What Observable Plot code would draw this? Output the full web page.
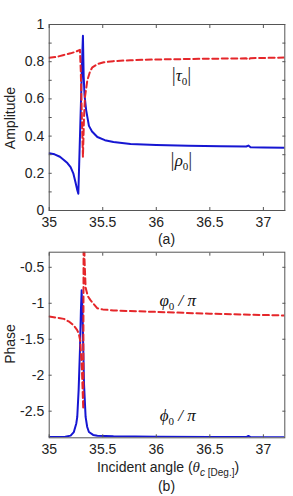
<!DOCTYPE html>
<html>
<head>
<meta charset="utf-8">
<script src="https://cdn.jsdelivr.net/npm/d3@7"></script>
<script src="https://cdn.jsdelivr.net/npm/@observablehq/plot@0.6"></script>
<style>
  body { margin: 0; background: #fff; }
  #fig { position: relative; width: 293px; height: 496px; font-family: "Liberation Sans", Arial, sans-serif; color: #222; }
  .panel { position: absolute; left: 0; }
  .lab { position: absolute; font-size: 14px; white-space: nowrap; transform: translate(-50%, -50%); line-height: 1; }
  .ylab { transform: translate(-50%, -50%) rotate(-90deg); }
  .sub { font-size: 10px; position: relative; top: 4px; }
  .m { font-family: "Liberation Serif", "DejaVu Serif", serif; font-style: italic; font-size: 15px; }
</style>
</head>
<body>
<div id="fig">
  <div class="panel" id="amp" style="top:0"></div>
  <div class="panel" id="phase" style="top:248px"></div>
  <div class="lab ylab" style="left:10px;top:118px">Amplitude</div>
  <div class="lab" style="left:166.5px;top:239px">(a)</div>
  <div class="lab ylab" style="left:10px;top:343.5px">Phase</div>
  <div class="lab" style="left:168px;top:467px">Incident angle (<span class="m">θ</span><span class="sub"><i>c</i> [Deg.]</span>)</div>
  <div class="lab" style="left:166.5px;top:485.5px">(b)</div>
</div>
<script>
// Incident angle (degrees) ticks and amplitude / phase ticks
const angleTicks = [35, 35.5, 36, 36.5, 37];
const ampTicks = [0, 0.2, 0.4, 0.6, 0.8, 1];
const ampMinorTicks = [0, 0.1, 0.2, 0.3, 0.4, 0.5, 0.6, 0.7, 0.8, 0.9, 1];
const phaseTicks = [-2.5, -2, -1.5, -1, -0.5];

// |rho_0| : reflection amplitude
const rhoX = [35.00, 35.05, 35.10, 35.137, 35.17, 35.20, 35.225, 35.246, 35.26, 35.272, 35.28, 35.29, 35.30, 35.308, 35.315, 35.322, 35.33, 35.345, 35.371, 35.40, 35.45, 35.52, 35.60, 35.76, 36.0, 36.3, 36.6, 36.84, 36.86, 36.88, 37.0, 37.2];
const rhoY = [0.308, 0.302, 0.289, 0.272, 0.255, 0.233, 0.200, 0.150, 0.115, 0.090, 0.25, 0.45, 0.65, 0.82, 0.94, 0.72, 0.62, 0.54, 0.455, 0.425, 0.395, 0.378, 0.368, 0.358, 0.352, 0.348, 0.345, 0.344, 0.349, 0.340, 0.339, 0.338];

// |tau_0| : transmission amplitude
const tauX = [35.0, 35.07, 35.137, 35.20, 35.25, 35.287, 35.295, 35.305, 35.315, 35.325, 35.334, 35.356, 35.38, 35.403, 35.45, 35.51, 35.60, 35.76, 36.0, 36.5, 36.84, 36.86, 36.88, 37.2];
const tauY = [0.821, 0.826, 0.836, 0.845, 0.854, 0.864, 0.75, 0.50, 0.287, 0.50, 0.609, 0.70, 0.745, 0.77, 0.787, 0.797, 0.803, 0.808, 0.812, 0.816, 0.818, 0.812, 0.819, 0.822];

// phi_0 / pi : reflection phase
const phiX = [35.0, 35.15, 35.20, 35.23, 35.253, 35.262, 35.275, 35.287, 35.296, 35.303, 35.312, 35.325, 35.34, 35.355, 35.371, 35.41, 35.45, 35.6, 36.0, 36.5, 36.84, 36.86, 36.88, 37.2];
const phiY = [-2.86, -2.855, -2.84, -2.79, -2.67, -2.58, -2.2, -1.66, -1.1, -0.82, -1.19, -2.12, -2.58, -2.72, -2.79, -2.83, -2.84, -2.85, -2.855, -2.86, -2.86, -2.845, -2.86, -2.862];

// varphi_0 / pi : transmission phase
const vphiX = [35.0, 35.07, 35.137, 35.19, 35.23, 35.26, 35.277, 35.29, 35.305, 35.318, 35.322, 35.33, 35.34, 35.36, 35.387, 35.45, 35.5, 35.6, 36.0, 36.5, 37.2];
const vphiY = [-1.185, -1.2, -1.217, -1.26, -1.31, -1.37, -1.425, -1.52, -1.9, -2.47, 0.5, -0.4, -0.78, -0.9, -0.96, -1.07, -1.085, -1.10, -1.12, -1.145, -1.17];

// Curve labels; "_0" marks a subscript zero
const ampLabels = [
  {text: "|τ_0|", x: 36.235, y: 0.726},
  {text: "|ρ_0|", x: 36.235, y: 0.269}
];
const phaseLabels = [
  {text: "φ_0 / π", x: 36.2, y: -0.963},
  {text: "ϕ_0 / π", x: 36.2, y: -2.56}
];

const BLUE = "#1616d2";
const RED = "#e5262a";
const FRAME = "#555";
const pts = (xs, ys) => xs.map((x, i) => ({x, y: ys[i]}));

function boxAxes(xTicks, yTicks, yMinor) {
  return [
    Plot.frame({stroke: FRAME, strokeWidth: 1}),
    Plot.axisX(xTicks, {anchor: "bottom", tickSize: -3, tickPadding: 9.5, tickFormat: String, stroke: FRAME, fill: "#222", label: null}),
    Plot.axisX(xTicks, {anchor: "top", tickSize: -3, tickFormat: () => "", stroke: FRAME, label: null}),
    Plot.axisY(yMinor, {anchor: "left", tickSize: -3, tickFormat: () => "", stroke: FRAME, label: null}),
    Plot.axisY(yTicks, {anchor: "left", tickSize: 0, tickPadding: 5, tickFormat: String, fill: "#222", label: null}),
    Plot.axisY(yMinor, {anchor: "right", tickSize: -3, tickFormat: () => "", stroke: FRAME, label: null})
  ];
}

// Typeset the curve labels: upright bars and subscript, italic symbols
function typeset(svg) {
  d3.select(svg).selectAll(".mathlbl text").each(function () {
    const src = this.textContent;
    const sel = d3.select(this).text("");
    let shift = 0;
    for (let i = 0; i < src.length; i++) {
      const ch = src[i];
      if (ch === "_") {
        sel.append("tspan").attr("font-style", "normal").attr("font-size", 11).attr("dy", 4).text(src[++i]);
        shift = -4;
        continue;
      }
      const t = sel.append("tspan").text(ch);
      if (shift) { t.attr("dy", shift); shift = 0; }
      if (ch === "|") t.attr("font-style", "normal").attr("font-size", 20).attr("fill", "#333");
    }
  });
}

const style = {fontFamily: "'Liberation Sans', Arial, sans-serif", fontSize: "14px", background: "transparent", overflow: "visible"};
const mathText = {fontFamily: "'Liberation Serif', 'DejaVu Serif', serif", fontStyle: "italic", fontSize: 17, fill: "#111", className: "mathlbl"};

const amp = Plot.plot({
  width: 293, height: 248,
  marginLeft: 48.7, marginRight: 8.7, marginTop: 24, marginBottom: 38,
  style,
  x: {domain: [35, 37.2]},
  y: {domain: [0, 1]},
  marks: [
    Plot.line(pts(rhoX, rhoY), {x: "x", y: "y", stroke: BLUE, strokeWidth: 2, clip: true}),
    Plot.line(pts(tauX, tauY), {x: "x", y: "y", stroke: RED, strokeWidth: 2, strokeDasharray: "6,3.5", clip: true}),
    Plot.text(ampLabels, {x: "x", y: "y", text: "text", ...mathText}),
    ...boxAxes(angleTicks, ampTicks, ampMinorTicks)
  ]
});
typeset(amp);
document.getElementById("amp").append(amp);

const phase = Plot.plot({
  width: 293, height: 248,
  marginLeft: 48.7, marginRight: 8.7, marginTop: 3.7, marginBottom: 58.7,
  style,
  x: {domain: [35, 37.2]},
  y: {domain: [-2.87, -0.29]},
  marks: [
    Plot.line(pts(phiX, phiY), {x: "x", y: "y", stroke: BLUE, strokeWidth: 2, clip: true}),
    Plot.line(pts(vphiX, vphiY), {x: "x", y: "y", stroke: RED, strokeWidth: 2, strokeDasharray: "6,3.5", clip: true}),
    Plot.text(phaseLabels, {x: "x", y: "y", text: "text", ...mathText}),
    ...boxAxes(angleTicks, phaseTicks, phaseTicks)
  ]
});
typeset(phase);
document.getElementById("phase").append(phase);
</script>
</body>
</html>
